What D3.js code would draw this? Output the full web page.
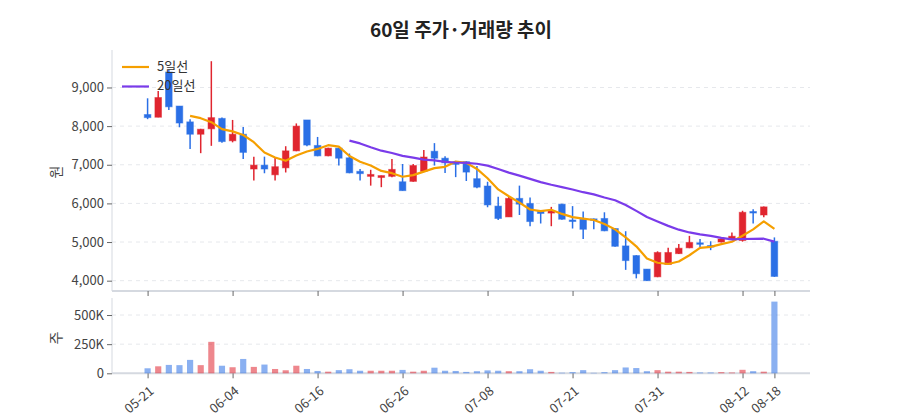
<!DOCTYPE html>
<html>
<head>
<meta charset="utf-8">
<script src="https://cdn.jsdelivr.net/npm/d3@7"></script>
<style>
  body { margin: 0; background: #fff; }
  svg text { font-family: "Noto Sans CJK KR", "Noto Sans", sans-serif; }
  .grid line { stroke: #e6e8ec; stroke-dasharray: 4,4; }
  .axis path { stroke: #d5d9e0; }
  .axis line { stroke: #666; }
  .axis text { fill: #444; font-size: 13px; }
</style>
</head>
<body>
<div id="chart"></div>
<script>
const dates = [
  '05-21','05-22','05-23','05-26','05-27','05-28','05-29','05-30','06-04',
  '06-05','06-06','06-09','06-10','06-11','06-12','06-13','06-16',
  '06-17','06-18','06-19','06-20','06-23','06-24','06-25','06-26',
  '06-27','06-30','07-01','07-02','07-03','07-04','07-07','07-08',
  '07-09','07-10','07-11','07-14','07-15','07-16','07-17','07-21',
  '07-22','07-23','07-24','07-25','07-28','07-29','07-30','07-31',
  '08-01','08-04','08-05','08-06','08-07','08-08','08-11','08-12',
  '08-13','08-14','08-18'
];
const opens = [8300,8230,9400,8520,8110,7790,7930,8200,7620,7790,6890,6990,6740,6920,7360,8160,7500,7230,7430,7180,
  6830,6700,6670,6700,6560,6570,6830,7350,7170,7070,7080,6640,6450,5930,5650,6130,6000,5800,5750,5980,
  5570,5590,5600,5610,5350,4900,4650,4300,4100,4420,4700,4850,4980,4910,5000,5060,5040,5790,5700,5020];
const highs = [8720,8910,9450,8520,8180,7930,9680,8220,8160,7980,7210,7210,7180,7480,8070,8160,7720,7440,7440,7290,
  6890,6870,6720,7150,7020,7020,7380,7560,7220,7080,7090,6970,6560,6170,6170,6460,6150,5820,5910,5990,
  5930,5790,5610,5770,5360,5280,4660,4300,4760,4850,4950,5160,5080,5020,5090,5250,5810,5850,5920,5120];
const lows = [8180,8230,8420,7970,7410,7300,7490,7570,7580,7150,6590,6780,6590,6800,7350,7480,7220,7220,6980,6780,
  6590,6460,6420,6680,6330,6560,6820,6980,6790,6680,6580,6390,5900,5570,5650,5700,5410,5480,5410,5580,
  5350,5080,5330,5280,4880,4280,4060,3990,4090,4410,4690,4840,4870,4790,4990,5050,5010,5480,5640,4100];
const closes = [8220,8740,8500,8080,7790,7920,8220,7600,7790,7320,6990,6890,6950,7360,8000,7510,7230,7430,7170,6790,
  6770,6750,6720,6880,6330,6980,7200,7170,7050,7010,6810,6420,5960,5610,6130,5980,5530,5740,5800,5590,
  5560,5330,5570,5290,4890,4520,4180,4000,4730,4730,4840,4990,4950,4870,5080,5150,5770,5770,5910,4110];
const volumes = [43000,60000,72000,70000,115000,70000,270000,65000,52000,123000,55000,75000,37000,26000,65000,37000,20000,14000,27000,35000,
  22000,22000,22000,22000,29000,14000,22000,48000,22000,20000,12000,18000,25000,22000,18000,18000,35000,22000,12000,5000,
  10000,27000,4000,10000,27000,50000,45000,18000,27000,14000,14000,12000,7000,7000,10000,7000,30000,18000,14000,615000];
const xTicks = ['05-21','06-04','06-16','06-26','07-08','07-21','07-31','08-12','08-18'];
const priceTicks = [4000,5000,6000,7000,8000,9000];
const volumeTicks = [0,250000,500000];
const maSeries = [
  { name: '5일선', period: 5, color: '#f59f00' },
  { name: '20일선', period: 20, color: '#7a3bea' }
];

const width = 900, height = 420;
const left = 112, right = 810;
const priceTop = 50, priceBottom = 291;
const volTop = 298, volBottom = 373.3;
const UP = '#e0252f', DOWN = '#2a6fe6';

const svg = d3.select('#chart').append('svg')
  .attr('width', width).attr('height', height);

const x = d3.scalePoint().domain(dates).range([left, right]).padding(3.35);
const step = x.step();
const yPrice = d3.scaleLinear().domain([3733, 9970]).range([priceBottom, priceTop]);
const yVol = d3.scaleLinear().domain([0, 646000]).range([volBottom, volTop]);

// title
svg.append('text')
  .attr('x', (left + right) / 2).attr('y', 32)
  .attr('text-anchor', 'middle').attr('dominant-baseline', 'middle')
  .style('font-size', '19px').style('font-weight', 'bold').style('fill', '#222')
  .text('60일 주가·거래량 추이');

// grid lines
svg.append('g').attr('class', 'grid')
  .selectAll('line').data(priceTicks).join('line')
  .attr('x1', left).attr('x2', right)
  .attr('y1', d => yPrice(d)).attr('y2', d => yPrice(d));
svg.append('g').attr('class', 'grid')
  .selectAll('line').data(volumeTicks.filter(d => d > 0)).join('line')
  .attr('x1', left).attr('x2', right)
  .attr('y1', d => yVol(d)).attr('y2', d => yVol(d));

// axes
const yAxisPrice = svg.append('g').attr('class', 'axis')
  .attr('transform', `translate(${left},0)`)
  .call(d3.axisLeft(yPrice).tickValues(priceTicks).tickFormat(d3.format(',')).tickSize(5).tickSizeOuter(0));
yAxisPrice.select('.domain').attr('d', `M0,${priceTop}V${priceBottom}`);

const yAxisVol = svg.append('g').attr('class', 'axis')
  .attr('transform', `translate(${left},0)`)
  .call(d3.axisLeft(yVol).tickValues(volumeTicks)
    .tickFormat(d => d === 0 ? '0' : d3.format('~s')(d).replace('k', 'K')).tickSize(5).tickSizeOuter(0));
yAxisVol.select('.domain').attr('d', `M0,${volTop}V${volBottom}`);

const xAxisPrice = svg.append('g').attr('class', 'axis')
  .attr('transform', `translate(0,${priceBottom})`)
  .call(d3.axisBottom(x).tickValues(xTicks).tickSize(5).tickSizeOuter(0).tickFormat(''));
xAxisPrice.select('.domain').attr('d', `M${left},0H${right}`).style('stroke-width', 2);

const xAxisVol = svg.append('g').attr('class', 'axis')
  .attr('transform', `translate(0,${volBottom})`)
  .call(d3.axisBottom(x).tickValues(xTicks).tickSize(5).tickSizeOuter(0));
xAxisVol.select('.domain').attr('d', `M${left},0H${right}`).style('stroke-width', 2);
xAxisVol.selectAll('text')
  .attr('text-anchor', 'end')
  .attr('dx', '-0.55em').attr('dy', '0.85em')
  .attr('transform', 'rotate(-40)');

// axis titles
svg.append('text').attr('transform', 'translate(57,172) rotate(-90)')
  .attr('text-anchor', 'middle').attr('dominant-baseline', 'middle')
  .style('font-size', '14px').style('fill', '#444').text('원');
svg.append('text').attr('transform', 'translate(57,338) rotate(-90)')
  .attr('text-anchor', 'middle').attr('dominant-baseline', 'middle')
  .style('font-size', '14px').style('fill', '#444').text('주');

// candles
const candles = dates.map((d, i) => ({
  date: d, open: opens[i], high: highs[i], low: lows[i], close: closes[i], volume: volumes[i]
}));
const colorOf = d => d.close > d.open ? UP : DOWN;
const bodyW = step * 0.62;

const cg = svg.append('g').selectAll('g').data(candles).join('g');
cg.append('line')
  .attr('x1', d => x(d.date)).attr('x2', d => x(d.date))
  .attr('y1', d => yPrice(d.high)).attr('y2', d => yPrice(d.low))
  .attr('stroke', colorOf).attr('stroke-width', 1.5);
cg.append('rect')
  .attr('x', d => x(d.date) - bodyW / 2)
  .attr('width', bodyW)
  .attr('y', d => yPrice(Math.max(d.open, d.close)))
  .attr('height', d => Math.max(1.5, Math.abs(yPrice(d.open) - yPrice(d.close))))
  .attr('fill', colorOf)
  .attr('stroke', colorOf).attr('stroke-opacity', 0.5).attr('stroke-width', 1);

// moving averages
maSeries.forEach(s => {
  const pts = candles.map((d, i) => {
    if (i < s.period - 1) return null;
    return { date: d.date, value: d3.mean(closes.slice(i - s.period + 1, i + 1)) };
  }).filter(Boolean);
  svg.append('path').datum(pts)
    .attr('fill', 'none').attr('stroke', s.color).attr('stroke-width', 2.2)
    .attr('stroke-linejoin', 'round')
    .attr('d', d3.line().x(d => x(d.date)).y(d => yPrice(d.value)));
});

// volume bars
const volW = step * 0.58;
svg.append('g').selectAll('rect').data(candles).join('rect')
  .attr('x', d => x(d.date) - volW / 2)
  .attr('width', volW)
  .attr('y', d => yVol(d.volume))
  .attr('height', d => volBottom - yVol(d.volume))
  .attr('fill', colorOf).attr('fill-opacity', 0.55);

// legend
const legend = svg.append('g').selectAll('g').data(maSeries).join('g')
  .attr('transform', (d, i) => `translate(122,${67 + i * 19.5})`);
legend.append('line').attr('x1', 0).attr('x2', 27)
  .attr('stroke', d => d.color).attr('stroke-width', 2.2);
legend.append('text').attr('x', 35).attr('dominant-baseline', 'middle')
  .style('font-size', '13px').style('fill', '#333').text(d => d.name);
</script>
</body>
</html>
